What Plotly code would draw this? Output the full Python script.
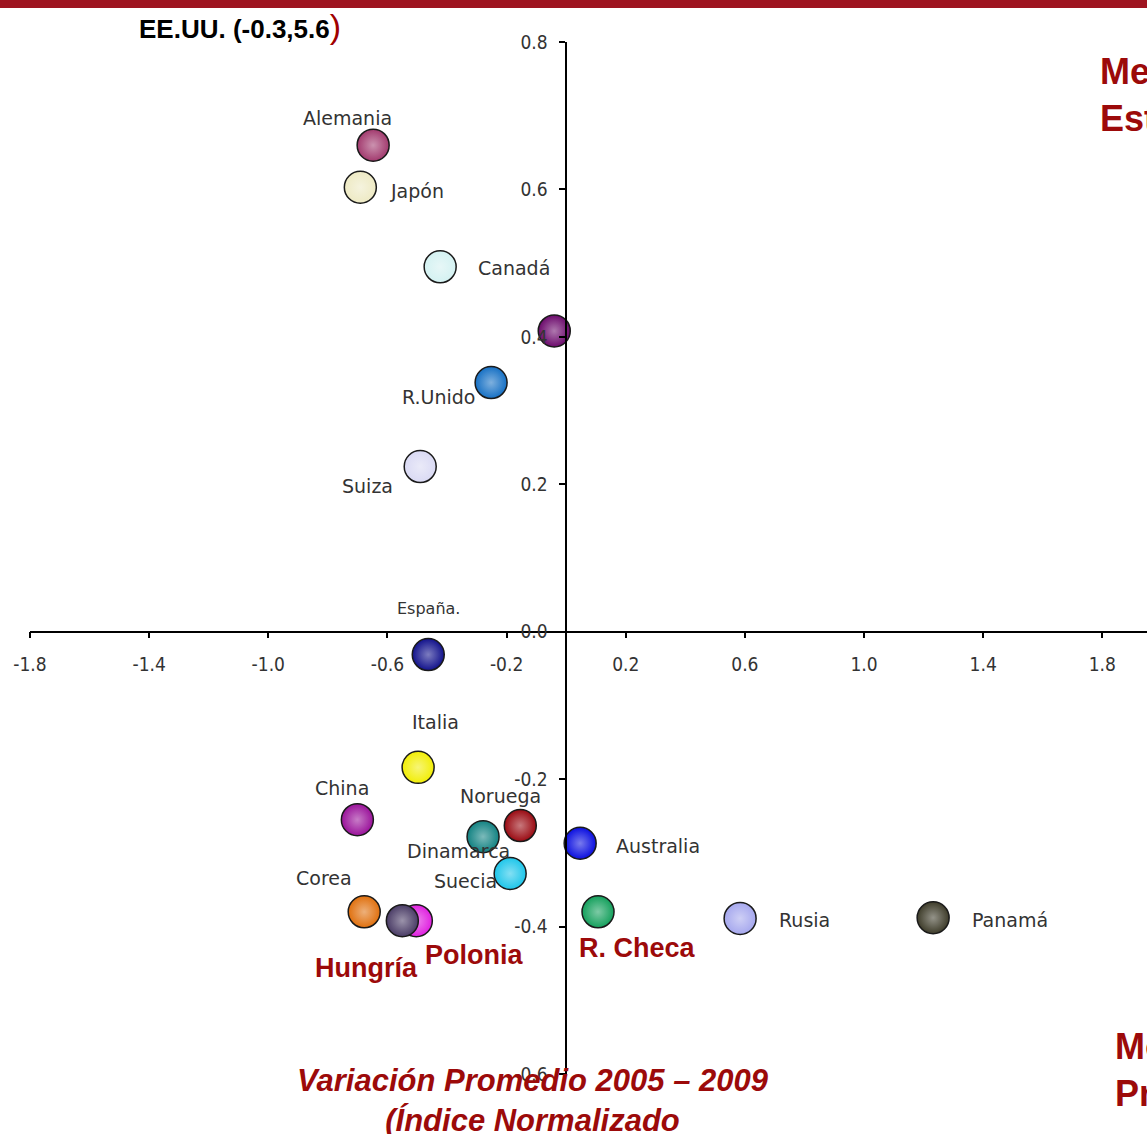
import plotly.graph_objects as go

# Datos (variación promedio 2005-2009, índice normalizado)
paises = ["Alemania", "Japón", "Canadá", "", "R.Unido", "Suiza", "España.", "Italia",
          "China", "Noruega", "Dinamarca", "Australia", "Suecia", "Corea",
          "Polonia", "Hungría", "R. Checa", "Rusia", "Panamá"]
var_x = [-0.648, -0.691, -0.423, -0.040, -0.252, -0.490, -0.463, -0.497,
         -0.701, -0.154, -0.279, 0.047, -0.188, -0.678,
         -0.503, -0.550, 0.107, 0.584, 1.232]
var_y = [0.660, 0.603, 0.495, 0.408, 0.338, 0.224, -0.031, -0.184,
         -0.255, -0.263, -0.278, -0.287, -0.328, -0.380,
         -0.392, -0.392, -0.380, -0.389, -0.388]
colores = ["#a23a6e", "#eeeac4", "#d4f2f2", "#6c0a6c", "#1670c4", "#dadaf4", "#12128c", "#f2ee06",
           "#9a129a", "#9a0a12", "#128282", "#0a0ee0", "#1ec6ea", "#e0700e",
           "#e020e0", "#4a3c66", "#14a05c", "#a6a8ee", "#3e3c2a"]
destacados = ["Hungría", "Polonia", "R. Checa"]

x_ticks = [-1.8, -1.4, -1.0, -0.6, -0.2, 0.2, 0.6, 1.0, 1.4, 1.8]
x_tick_text = ["-1.8", "-1.4", "-1.0", "-0.6", "-0.2", "0.2", "0.6", "1.0", "1.4", "1.8"]
y_ticks = [0.8, 0.6, 0.4, 0.2, 0.0, -0.2, -0.4, -0.6]
y_tick_text = ["0.8", "0.6", "0.4", "0.2", "0.0", "-0.2", "-0.4", "-0.6"]

# desplazamiento de etiquetas en pixeles (dx, dy pantalla)
label_offsets = {
    "Alemania": (-26, -27), "Japón": (57, 4), "Canadá": (74, 1), "R.Unido": (-53, 14),
    "Suiza": (-53, 19), "España.": (0, -46), "Italia": (17, -45), "China": (-15, -32),
    "Noruega": (-20, -30), "Dinamarca": (-25, 14), "Australia": (78, 3), "Suecia": (-45, 7),
    "Corea": (-40, -34), "Hungría": (-36, 47), "Polonia": (58, 34), "R. Checa": (39, 36),
    "Rusia": (64, 2), "Panamá": (77, 2),
}

RED = "#9c0a0a"
W, H = 1147, 1134
ML, MR, MT, MB = 30, 0, 42, 60
x_range = [-1.8, 1.95]
y_range = [-0.6, 0.8]


def px_x(px):
    return (px - ML) / (W - ML - MR)


def px_y(py):
    return (H - MB - py) / (H - MT - MB)


def lighten(hexcol, f=0.5):
    r, g, b = (int(hexcol[i:i + 2], 16) for i in (1, 3, 5))
    r, g, b = (int(c + (255 - c) * f) for c in (r, g, b))
    return f"rgb({r},{g},{b})"


fig = go.Figure()

fig.add_trace(go.Scatter(
    x=var_x, y=var_y, mode='markers',
    marker=dict(
        size=32,
        color=colores,
        gradient=dict(type='radial', color=[lighten(c, 0.45) for c in colores]),
        line=dict(color='#1a1a1a', width=1.5),
        opacity=1,
    ),
    cliponaxis=False,
    hovertext=paises,
    showlegend=False,
))

for nombre, xi, yi in zip(paises, var_x, var_y):
    if not nombre:
        continue
    dx, dy = label_offsets[nombre]
    if nombre in destacados:
        font = dict(family='Liberation Sans, Arial', size=27, color=RED, weight='bold')
    elif nombre == "España.":
        font = dict(family='DejaVu Sans', size=16, color='#333333')
    else:
        font = dict(family='DejaVu Sans', size=19, color='#333333')
    fig.add_annotation(x=xi, y=yi, text=nombre, showarrow=False,
                       xshift=dx, yshift=-dy, font=font)

x_pos = (0 - y_range[0]) / (y_range[1] - y_range[0])
y_pos = (0 - x_range[0]) / (x_range[1] - x_range[0])

tick_font = dict(family='DejaVu Sans Condensed, DejaVu Sans', size=19, color='#333333')

fig.update_layout(
    width=W, height=H,
    margin=dict(l=ML, r=MR, t=MT, b=MB),
    plot_bgcolor='white', paper_bgcolor='white',
    showlegend=False,
    xaxis=dict(
        range=x_range, showgrid=False, zeroline=False,
        showline=True, linecolor='black', linewidth=1.5,
        ticks='outside', ticklen=6, tickcolor='black', tickwidth=1.5,
        tickvals=x_ticks, ticktext=x_tick_text, tickfont=tick_font,
        anchor='free', position=x_pos, ticklabelstandoff=10,
    ),
    yaxis=dict(
        range=y_range, showgrid=False, zeroline=False,
        showline=True, linecolor='black', linewidth=1.5,
        ticks='outside', ticklen=6, tickcolor='black', tickwidth=1.5,
        tickvals=y_ticks, ticktext=y_tick_text, tickfont=tick_font,
        anchor='free', position=y_pos, ticklabelstandoff=8,
    ),
)

# barra superior
fig.add_shape(type='rect', xref='paper', yref='paper',
              x0=px_x(-5), x1=px_x(W + 5), y0=px_y(8), y1=px_y(-5),
              fillcolor='#9e1420', line_width=0, layer='above')

fig.add_annotation(
    xref='paper', yref='paper', x=px_x(137), y=px_y(26), xanchor='left', yanchor='middle',
    text="EE.UU. (-0.3,5.6<span style='color:#a00000;font-size:34px;font-weight:normal'>)</span>",
    showarrow=False, font=dict(family='Liberation Sans, Arial', size=26, color='black', weight='bold'),
)

fig.add_annotation(
    xref='paper', yref='paper', x=px_x(1098), y=px_y(95), xanchor='left', yanchor='middle',
    text="Mejor<br>Estado", showarrow=False, align='left',
    font=dict(family='Liberation Sans, Arial', size=36, color=RED, weight='bold'),
)
fig.add_annotation(
    xref='paper', yref='paper', x=px_x(1113), y=px_y(1070), xanchor='left', yanchor='middle',
    text="Moderado<br>Progreso", showarrow=False, align='left',
    font=dict(family='Liberation Sans, Arial', size=36, color=RED, weight='bold'),
)

fig.add_annotation(
    xref='paper', yref='paper', x=px_x(533), y=px_y(1100), xanchor='center', yanchor='middle',
    text="Variación Promedio 2005 – 2009<br>(Índice Normalizado", showarrow=False, align='center',
    font=dict(family='Liberation Sans, Arial', size=31, color=RED, weight='bold', style='italic'),
)

fig.write_html("out.html", config={'displayModeBar': False},
               post_script="document.body.style.margin='0';")
